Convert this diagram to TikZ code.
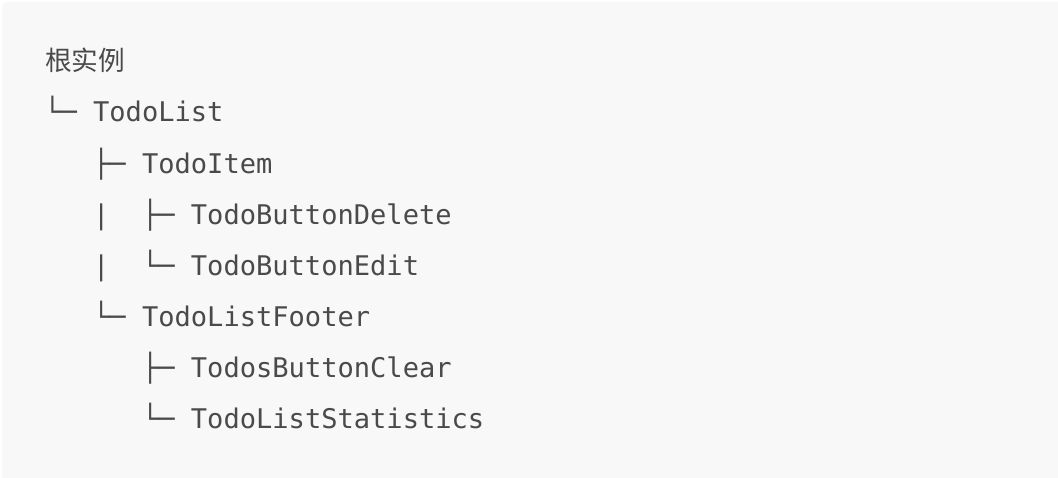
\documentclass[tikz,border=0pt]{standalone}
\usepackage{fontspec}
\setmonofont{DejaVu Sans Mono}
\newfontfamily\cjkfont{Noto Sans CJK SC}
\definecolor{codebg}{HTML}{F8F8F8}
\definecolor{codefg}{HTML}{4A4A4A}
\begin{document}
\begin{tikzpicture}[x=0.75pt,y=-0.75pt,
  treeline/.style={anchor=base west,inner sep=0pt,text=codefg,
    font=\ttfamily\fontsize{20.3}{24}\selectfont},
  heading/.style={anchor=base west,inner sep=0pt,text=codefg,
    font=\cjkfont\fontsize{20}{24}\selectfont}]
\useasboundingbox (0,0) rectangle (1058,478);
% code block background
\fill[white] (0,0) rectangle (1058,478);
\fill[codebg,rounded corners=5] (2,2) rectangle (1066,486);
% column offsets (one monospace cell = 16.3px)
\def\colA{44}
\def\colB{92.9}
\def\colC{141.8}
\node[heading] (root) at (45,71) {根实例};
\node[treeline] (todolist) at (\colA,122) {└─ TodoList};
\node[treeline] (todoitem) at (\colB,173) {├─ TodoItem};
\node[treeline] (btndelete) at (\colB,224) {|~~├─ TodoButtonDelete};
\node[treeline] (btnedit) at (\colB,275.5) {|~~└─ TodoButtonEdit};
\node[treeline] (footer) at (\colB,326.5) {└─ TodoListFooter};
\node[treeline] (btnclear) at (\colC,377.5) {├─ TodosButtonClear};
\node[treeline] (statistics) at (\colC,428.5) {└─ TodoListStatistics};
\end{tikzpicture}
\end{document}
